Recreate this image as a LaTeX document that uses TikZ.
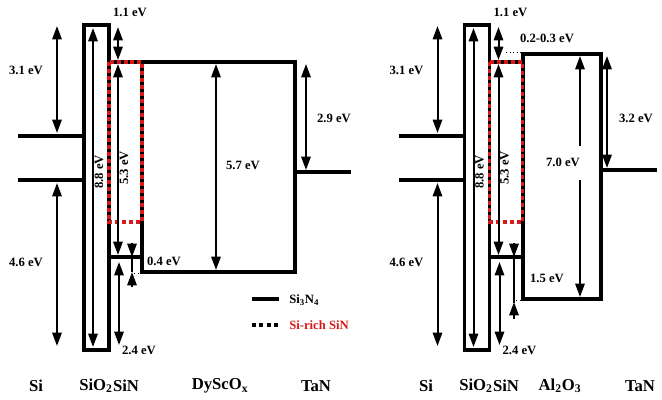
\documentclass[tikz,border=0pt]{standalone}
\usepackage{fontspec}
\setmainfont{Liberation Serif}
\usetikzlibrary{arrows.meta}
\definecolor{sirich}{RGB}{215,25,25}

\tikzset{
  band/.style={line width=2.5pt},
  twotip/.style={line width=1.5pt, {Triangle[width=7pt,length=10pt]}-{Triangle[width=7pt,length=10pt]}},
  onetip/.style={line width=1.5pt, -{Triangle[width=7pt,length=10pt]}},
  richbox/.style={sirich, line width=2.5pt, dash pattern=on 3pt off 2.2pt},
  lbl/.style={font=\bfseries\fontsize{9.5}{11}\selectfont, inner sep=0pt},
  layername/.style={font=\bfseries\fontsize{12.5}{14}\selectfont, inner sep=0pt},
}

\begin{document}
\begin{tikzpicture}[x=0.75pt, y=-0.75pt]
\useasboundingbox (0,0) rectangle (662,400);

% DyScOx stack: SiN and DyScOx bands, TaN
\draw[band] (109,62) -- (295,62) -- (295,272) -- (142,272) -- (142,62);
\draw[band] (295,172) -- (351,172);
\draw[twotip] (216,64) -- (216,270);
\draw[twotip] (306,64) -- (306,170);
\draw[line width=1.2pt] (132,257) -- (132,272);
\draw[onetip] (132,243) -- (132,257);
\draw[onetip] (132,287) -- (132,272);
\draw[dotted, line width=0.7pt] (134,273) -- (141,273);
\node[lbl] (e57) at (243,165) {5.7 eV};
\node[lbl] (e29) at (334,118) {2.9 eV};
\node[lbl] (e04) at (164,261) {0.4 eV};

% Al2O3 stack: SiN and Al2O3 bands, TaN
\draw[band] (490,62) -- (523,62) -- (523,54) -- (601,54) -- (601,299) -- (523,299) -- (523,60);
\draw[band] (601,170) -- (657,170);
\draw[dotted, line width=0.7pt] (506,52) -- (522,52);
\draw[onetip] (580,146) -- (580,56);
\draw[onetip] (580,180) -- (580,297);
\draw[twotip] (607,56) -- (607,168);
\draw[line width=1.2pt] (514,257) -- (514,303);
\draw[onetip] (514,243) -- (514,257);
\draw[onetip] (514,319) -- (514,302);
\draw[dotted, line width=0.7pt] (516,300) -- (522,300);
\node[lbl] (e70) at (563,162) {7.0 eV};
\node[lbl] (e32) at (636,118) {3.2 eV};
\node[lbl] (e15) at (547,278) {1.5 eV};
\node[lbl] (e0203) at (547,38) {0.2-0.3 eV};

% Si, SiO2, SiN and Si-rich SiN, same for both stacks
\foreach \dx/\sd in {0/a, 380.5/b}{
  \begin{scope}[shift={(\dx,0)}]
    \draw[band] (18,136) -- (84,136);
    \draw[band] (18,180) -- (84,180);
    \draw[band] (84,25) rectangle (109,350);
    \draw[band] (109,257) -- (142,257);
    \draw[richbox] (109,62) rectangle (142,222);

    \draw[twotip] (57,26) -- (57,133);
    \draw[twotip] (57,183) -- (57,346);
    \draw[twotip] (93,28) -- (93,347);
    \draw[twotip] (118,27) -- (118,60);
    \draw[twotip] (118,64) -- (118,255);
    \draw[twotip] (119,262) -- (119,345);

    \node[lbl] (e31\sd) at (26,70) {3.1 eV};
    \node[lbl] (e46\sd) at (26,262) {4.6 eV};
    \node[lbl] (e11\sd) at (130,12) {1.1 eV};
    \node[lbl, rotate=90] (e88\sd) at (99,172) {8.8 eV};
    \node[lbl, rotate=90] (e53\sd) at (124,168) {5.3 eV};
    \node[lbl] (e24\sd) at (139,350) {2.4 eV};
  \end{scope}
}

% legend
\draw[band] (252,299) -- (279,299);
\draw[line width=3pt, dash pattern=on 3pt off 2.5pt] (252,325) -- (279,325);
\node[lbl, anchor=west] (leg1) at (289,300) {Si\textsubscript{3}N\textsubscript{4}};
\node[lbl, anchor=west, text=sirich] (leg2) at (289,325) {Si-rich SiN};

% layer names
\node[layername] (siA) at (36,386) {Si};
\node[layername] (oxA) at (96,386) {SiO\textsubscript{2}};
\node[layername] (snA) at (126,386) {SiN};
\node[layername] (hkA) at (220,386) {DyScO\textsubscript{x}};
\node[layername] (mgA) at (316,386) {TaN};
\node[layername] (siB) at (426,386) {Si};
\node[layername] (oxB) at (476,386) {SiO\textsubscript{2}};
\node[layername] (snB) at (506,386) {SiN};
\node[layername] (hkB) at (560,386) {Al\textsubscript{2}O\textsubscript{3}};
\node[layername] (mgB) at (640,386) {TaN};
\end{tikzpicture}
\end{document}
